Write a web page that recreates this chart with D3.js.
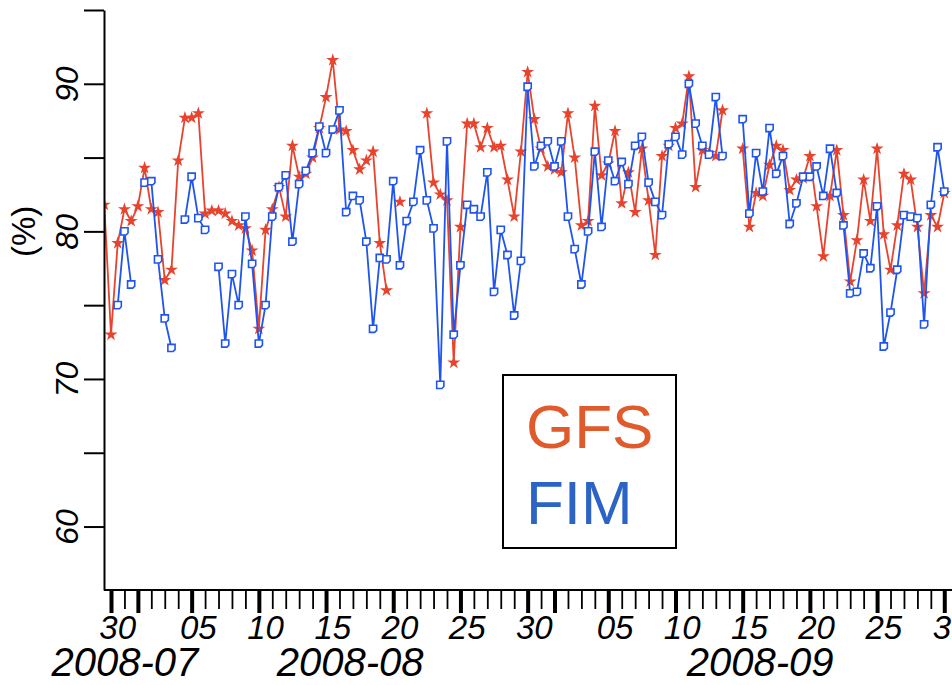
<!DOCTYPE html>
<html>
<head>
<meta charset="utf-8">
<script src="https://cdn.jsdelivr.net/npm/d3@7"></script>
<style>
  html, body { margin: 0; padding: 0; background: #ffffff; }
  svg { display: block; }
</style>
</head>
<body>
<svg id="chart" width="952" height="685"></svg>
<script>
// Twice-daily verification scores (%), 12-hourly from 2008-07-29 12Z.
const firstTime = "2008-07-29T12:00:00Z";
const stepHours = 12;

const gfsValues = [
  81.8, 73.0, 79.2, 81.5, 80.7, 81.7, 84.3, 81.5, 81.3, 76.7,
  77.4, 84.8, 87.7, 87.7, 88.0, 81.2, 81.4, 81.4, 81.2, 80.7,
  80.4, 80.2, 78.7, 73.4, 80.1, 81.5, 83.0, 81.0, 85.8, 83.7,
  83.9, 85.0, 87.0, 89.1, 91.6, 86.9, 86.8, 85.5, 84.2, 84.8,
  85.4, 79.2, 76.0, null, 82.0, null, null, null, 88.0, 83.3,
  82.5, 82.1, 71.1, 80.3, 87.3, 87.3, 85.7, 87.0, 85.7, 85.8,
  83.5, 81.0, 85.4, 90.8, 87.6, 85.6, 84.4, 84.2, 84.0, 88.0,
  85.0, 80.4, 80.7, 88.5, 83.8, 84.6, 86.8, 81.9, 84.0, 81.3,
  85.6, 82.1, 78.4, 85.1, 85.8, 87.0, 87.3, 90.5, 83.0, 85.5,
  85.3, 85.1, 88.2, null, null, 85.6, 80.3, 82.6, 82.4, 84.5,
  85.8, 85.5, 82.8, 83.5, 83.6, 85.1, 81.7, 78.3, 82.4, 85.5,
  81.1, 76.6, 79.4, 83.5, 80.7, 85.6, 79.8, 77.4, 80.4, 83.9,
  83.5, 80.3, 75.8, 81.1, 80.3, 82.6
];

const fimValues = [
  null, null, 75.0, 80.0, 76.4, null, 83.3, 83.4, 78.1, 74.1,
  72.1, null, 80.8, 83.7, 80.9, 80.1, null, 77.6, 72.4, 77.1,
  75.0, 81.0, 77.8, 72.4, 75.0, 81.0, 83.0, 83.8, 79.3, 83.2,
  84.1, 85.3, 87.1, 85.3, 86.9, 88.2, 81.3, 82.4, 82.1, 79.3,
  73.4, 78.2, 78.1, 83.4, 77.7, 80.7, 82.0, 85.5, 82.1, 80.2,
  69.6, 86.1, 73.0, 77.7, 81.8, 81.5, 81.0, 84.0, 75.9, 80.1,
  78.4, 74.3, 78.0, 89.8, 84.4, 85.8, 86.1, 84.4, 86.1, 81.0,
  78.8, 76.4, 80.0, 85.4, 80.3, 84.8, 83.4, 84.7, 83.2, 85.8,
  86.4, 83.3, 82.0, 81.1, 85.9, 86.4, 85.2, 90.0, 87.3, 85.8,
  85.2, 89.1, 85.1, null, null, 87.6, 81.2, 85.3, 82.7, 87.0,
  83.9, 85.1, 80.5, 81.9, 83.7, 83.7, 84.4, 82.4, 85.6, 82.6,
  80.4, 75.8, 75.9, 78.5, 77.5, 81.7, 72.2, 74.5, 77.4, 81.1,
  81.0, 80.9, 73.7, 81.8, 85.7, 82.7
];

const seriesNames = ["GFS", "FIM"];
const seriesColors = ["#e8432d", "#1f55ee"];
const legendColors = ["#e05a2b", "#2b64c4"];

const yTickValues = [60, 65, 70, 75, 80, 85, 90, 95];
const yAxisTitle = "(%)";
const monthNames = ["2008-07", "2008-08", "2008-09"];

const width = 952, height = 685;
const plot = { left: 104, right: 952, top: 10, bottom: 590 };

const svg = d3.select("#chart");
const fontStack = "'Liberation Sans', Arial, Helvetica, sans-serif";

// visible time window: the axis runs past the right edge of the page
const domainStart = new Date(Date.UTC(2008, 6, 29, 11, 30));
const domainEnd = new Date(Date.UTC(2008, 8, 30, 13, 47));

const x = d3.scaleUtc().domain([domainStart, domainEnd]).range([plot.left, plot.right]);
const y = d3.scaleLinear().domain([55.7, 95]).range([plot.bottom, plot.top]);

const t0 = new Date(firstTime);
function rows(values) {
  return values.map((v, i) => ({ t: d3.utcHour.offset(t0, i * stepHours), v }));
}
const series = [rows(gfsValues), rows(fimValues)];

// ---- data lines and markers ----
svg.append("clipPath").attr("id", "plotClip")
  .append("rect").attr("x", plot.left).attr("y", 0)
  .attr("width", plot.right - plot.left + 10).attr("height", plot.bottom);

const plotG = svg.append("g").attr("clip-path", "url(#plotClip)");

const line = d3.line()
  .defined(d => d.v != null)
  .x(d => x(d.t))
  .y(d => y(d.v));

const starPath = d3.symbol(d3.symbolStar, 52)();
const squarePath = "M-3.6,-3.6H3.6V1.6L1.6,3.6H-3.6Z";

series.forEach((data, si) => {
  const g = plotG.append("g");
  g.append("path")
    .datum(data)
    .attr("fill", "none")
    .attr("stroke", seriesColors[si])
    .attr("stroke-width", 1.8)
    .attr("stroke-linejoin", "round")
    .attr("d", line);
  const pts = g.selectAll("path.pt")
    .data(data.filter(d => d.v != null))
    .join("path")
    .attr("class", "pt")
    .attr("transform", d => `translate(${x(d.t)},${y(d.v)})`);
  if (si === 0) {
    pts.attr("d", starPath).attr("fill", seriesColors[si]);
  } else {
    pts.attr("d", squarePath).attr("fill", "#ffffff")
      .attr("stroke", seriesColors[si]).attr("stroke-width", 1.6);
  }
});

// ---- y axis ----
const yAxis = d3.axisLeft(y)
  .tickValues(yTickValues)
  .tickSize(20)
  .tickSizeOuter(0)
  .tickFormat(d => (d % 10 === 0 ? d : ""));

const yG = svg.append("g")
  .attr("transform", `translate(${plot.left},0)`)
  .call(yAxis);
yG.select(".domain").attr("stroke", "#000").attr("stroke-width", 2);
yG.selectAll(".tick line").attr("stroke", "#000").attr("stroke-width", 2);
yG.selectAll(".tick text")
  .attr("x", null).attr("dy", null)
  .attr("text-anchor", "middle")
  .attr("transform", "translate(-26,0) rotate(-90)")
  .attr("font-family", fontStack)
  .attr("font-style", "italic")
  .attr("font-size", 32)
  .attr("fill", "#000");

svg.append("text")
  .attr("transform", `translate(35,${y(80)}) rotate(-90)`)
  .attr("text-anchor", "middle")
  .attr("font-family", fontStack)
  .attr("font-size", 33)
  .attr("fill", "#000")
  .text(yAxisTitle);

// ---- x axis ----
const days = d3.utcDay.range(d3.utcDay.ceil(domainStart), domainEnd);
const isMajor = d => d.getUTCDate() % 5 === 0 || d.getUTCDate() === 1;

const xAxis = d3.axisBottom(x)
  .tickValues(days)
  .tickSize(19)
  .tickSizeOuter(0)
  .tickFormat("");

const xG = svg.append("g")
  .attr("transform", `translate(0,${plot.bottom})`)
  .call(xAxis);
xG.select(".domain").attr("stroke", "#000").attr("stroke-width", 2)
  .attr("d", `M${plot.left},0H${plot.right}`);
xG.selectAll(".tick line")
  .attr("stroke", "#000")
  .attr("stroke-width", d => (isMajor(d) ? 4 : 1.8))
  .attr("y2", d => (isMajor(d) ? 23 : 19));

// day labels centred on the day (noon)
svg.append("g").selectAll("text")
  .data(days.filter(d => d.getUTCDate() % 5 === 0))
  .join("text")
  .attr("x", d => x(d3.utcHour.offset(d, 12)))
  .attr("y", 639)
  .attr("text-anchor", "middle")
  .attr("font-family", fontStack)
  .attr("font-style", "italic")
  .attr("font-size", 33)
  .attr("fill", "#000")
  .text(d3.utcFormat("%d"));

// month labels centred in each month's visible span
const months = d3.utcMonth.range(d3.utcMonth.floor(domainStart), domainEnd);
svg.append("g").selectAll("text")
  .data(months)
  .join("text")
  .attr("x", m => {
    const a = m < domainStart ? domainStart : m;
    const b = d3.utcMonth.offset(m, 1);
    return (x(a) + x(b)) / 2 + 4;
  })
  .attr("y", 676)
  .attr("text-anchor", "middle")
  .attr("font-family", fontStack)
  .attr("font-style", "italic")
  .attr("font-size", 40)
  .attr("fill", "#000")
  .text((m, i) => monthNames[i]);

// ---- legend ----
const legend = svg.append("g");
legend.append("rect")
  .attr("x", 503).attr("y", 375)
  .attr("width", 173).attr("height", 173)
  .attr("fill", "#fff").attr("stroke", "#000").attr("stroke-width", 2);
seriesNames.forEach((name, i) => {
  legend.append("text")
    .attr("x", 526)
    .attr("y", 448 + i * 76)
    .attr("font-family", fontStack)
    .attr("font-size", 62)
    .attr("fill", legendColors[i])
    .text(name);
});
</script>
</body>
</html>
